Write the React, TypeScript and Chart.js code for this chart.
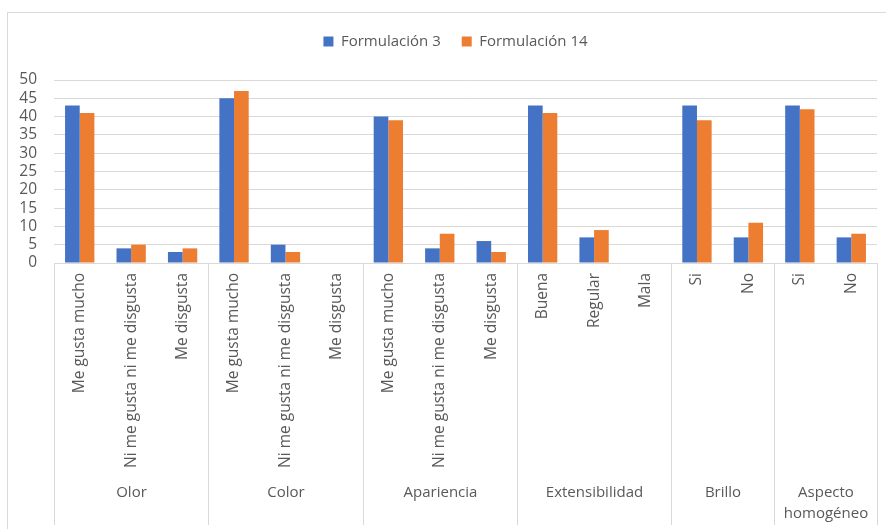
import React, { useEffect, useRef } from "react";
import { Chart, registerables } from "chart.js";

Chart.register(...registerables);

const seriesNames = ["Formulación 3", "Formulación 14"];
const subCategories = [
  "Me gusta mucho", "Ni me gusta ni me disgusta", "Me disgusta",
  "Me gusta mucho", "Ni me gusta ni me disgusta", "Me disgusta",
  "Me gusta mucho", "Ni me gusta ni me disgusta", "Me disgusta",
  "Buena", "Regular", "Mala",
  "Si", "No",
  "Si", "No",
];
const groupLabels: string[][] = [
  ["Olor"], ["Color"], ["Apariencia"], ["Extensibilidad"], ["Brillo"], ["Aspecto", "homogéneo"],
];
const groupSizes = [3, 3, 3, 3, 2, 2];
const formulacion3 = [43, 4, 3, 45, 5, 0, 40, 4, 6, 43, 7, 0, 43, 7, 43, 7];
const formulacion14 = [41, 5, 4, 47, 3, 0, 39, 8, 3, 41, 9, 0, 39, 11, 42, 8];
const yMin = 0;
const yMax = 50;
const yStep = 5;

const FONT = "'Open Sans', sans-serif";
const TEXT = "#595959";
const LINE = "#d9d9d9";

const decorPlugin = {
  id: "decor",
  afterLayout(chart: any) {
    const lg = chart.legend;
    if (lg) {
      lg.left += 17;
      lg.right += 17;
    }
  },
  beforeDraw(chart: any) {
    const ctx = chart.ctx;
    ctx.save();
    ctx.fillStyle = "#ffffff";
    ctx.fillRect(0, 0, chart.width, chart.height);
    ctx.strokeStyle = LINE;
    ctx.lineWidth = 1;
    ctx.strokeRect(7.5, 12.5, chart.width, chart.height);
    ctx.restore();
  },
  afterDraw(chart: any) {
    const ctx = chart.ctx;
    const x = chart.scales.x;
    const area = chart.chartArea;
    const n = subCategories.length;
    const w = (x.getPixelForValue(n - 1) - x.getPixelForValue(0)) / (n - 1);
    ctx.save();
    ctx.strokeStyle = LINE;
    ctx.lineWidth = 1;
    const bottom = chart.height - 4;
    let idx = 0;
    const bounds: number[] = [];
    for (let g = 0; g <= groupSizes.length; g++) {
      const px = Math.round(x.getPixelForValue(idx) - w / 2) + 0.5;
      bounds.push(px);
      ctx.beginPath();
      ctx.moveTo(px, area.bottom);
      ctx.lineTo(px, bottom);
      ctx.stroke();
      if (g < groupSizes.length) idx += groupSizes[g];
    }
    ctx.fillStyle = TEXT;
    ctx.font = `15px ${FONT}`;
    ctx.textAlign = "center";
    ctx.textBaseline = "middle";
    for (let g = 0; g < groupLabels.length; g++) {
      const cx = (bounds[g] + bounds[g + 1]) / 2;
      groupLabels[g].forEach((line, i) => {
        ctx.fillText(line, cx, 493 + i * 21);
      });
    }
    ctx.restore();
  },
};

export default function App() {
  const ref = useRef<HTMLCanvasElement>(null);
  useEffect(() => {
    const canvas = ref.current!;
    const chart = new Chart(canvas, {
      type: "bar",
      data: {
        labels: subCategories,
        datasets: [
          { label: seriesNames[0], data: formulacion3, backgroundColor: "#4472C4", categoryPercentage: 0.57, barPercentage: 1 },
          { label: seriesNames[1], data: formulacion14, backgroundColor: "#ED7D31", categoryPercentage: 0.57, barPercentage: 1 },
        ],
      },
      options: {
        responsive: false,
        animation: false,
        devicePixelRatio: 1,
        layout: { padding: { top: 13, right: 9, bottom: 4, left: 0 } },
        plugins: {
          legend: {
            position: "top",
            labels: {
              boxWidth: 10,
              boxHeight: 10,
              color: TEXT,
              font: { family: FONT, size: 15 },
              padding: 21,
            },
          },
          subtitle: {
            display: true,
            text: " ",
            weight: 500,
            font: { size: 10 },
            padding: { top: 0, bottom: 9 },
          },
          tooltip: { enabled: false },
        },
        scales: {
          x: {
            grid: { display: false, drawTicks: false },
            border: { display: true, color: LINE },
            ticks: {
              minRotation: 90,
              maxRotation: 90,
              autoSkip: false,
              padding: 10,
              color: TEXT,
              font: { family: FONT, size: 15.5 },
            },
            afterFit: (s: any) => { s.height = 262; },
          },
          y: {
            min: yMin,
            max: yMax,
            grid: { color: LINE, drawTicks: false },
            border: { display: false },
            ticks: {
              stepSize: yStep,
              autoSkip: false,
              padding: 17,
              color: TEXT,
              font: { family: FONT, size: 15.5 },
            },
            afterFit: (s: any) => { s.width = 54; },
          },
        },
      },
      plugins: [decorPlugin],
    });
    return () => chart.destroy();
  }, []);
  return (
    <div style={{ position: "absolute", left: 0, top: 0, width: 886, height: 529 }}>
      <canvas ref={ref} width={886} height={529} />
    </div>
  );
}
